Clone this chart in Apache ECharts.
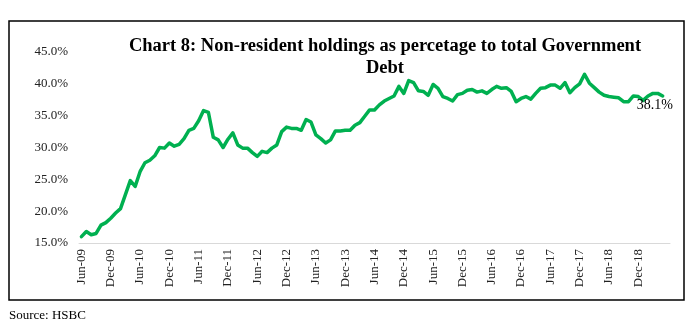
<!DOCTYPE html>
<html>
<head>
<meta charset="utf-8">
<script src="https://cdn.jsdelivr.net/npm/echarts@6/dist/echarts.min.js"></script>
<style>
html,body{margin:0;padding:0;background:#fff;}
#c{width:690px;height:333px;}
</style>
</head>
<body>
<div id="c"></div>
<script>
const months = [
 'Jun-09','Jul-09','Aug-09','Sep-09','Oct-09','Nov-09','Dec-09','Jan-10','Feb-10','Mar-10','Apr-10','May-10',
 'Jun-10','Jul-10','Aug-10','Sep-10','Oct-10','Nov-10','Dec-10','Jan-11','Feb-11','Mar-11','Apr-11','May-11',
 'Jun-11','Jul-11','Aug-11','Sep-11','Oct-11','Nov-11','Dec-11','Jan-12','Feb-12','Mar-12','Apr-12','May-12',
 'Jun-12','Jul-12','Aug-12','Sep-12','Oct-12','Nov-12','Dec-12','Jan-13','Feb-13','Mar-13','Apr-13','May-13',
 'Jun-13','Jul-13','Aug-13','Sep-13','Oct-13','Nov-13','Dec-13','Jan-14','Feb-14','Mar-14','Apr-14','May-14',
 'Jun-14','Jul-14','Aug-14','Sep-14','Oct-14','Nov-14','Dec-14','Jan-15','Feb-15','Mar-15','Apr-15','May-15',
 'Jun-15','Jul-15','Aug-15','Sep-15','Oct-15','Nov-15','Dec-15','Jan-16','Feb-16','Mar-16','Apr-16','May-16',
 'Jun-16','Jul-16','Aug-16','Sep-16','Oct-16','Nov-16','Dec-16','Jan-17','Feb-17','Mar-17','Apr-17','May-17',
 'Jun-17','Jul-17','Aug-17','Sep-17','Oct-17','Nov-17','Dec-17','Jan-18','Feb-18','Mar-18','Apr-18','May-18',
 'Jun-18','Jul-18','Aug-18','Sep-18','Oct-18','Nov-18','Dec-18','Jan-19','Feb-19','Mar-19','Apr-19','May-19',
 'Jun-19'
];
const holdings = [
 16.0,16.8,16.3,16.5,17.8,18.2,18.9,19.7,20.4,22.6,24.8,23.9,
 26.2,27.6,28.0,28.7,30.0,29.9,30.7,30.2,30.5,31.4,32.7,33.0,
 34.2,35.8,35.5,31.6,31.2,30.0,31.3,32.3,30.4,29.9,29.9,29.2,
 28.6,29.4,29.2,29.9,30.4,32.5,33.2,33.0,33.0,32.7,34.4,34.0,
 32.0,31.4,30.7,31.2,32.6,32.6,32.7,32.7,33.5,33.9,34.9,35.9,
 35.9,36.7,37.3,37.7,38.1,39.6,38.5,40.5,40.2,38.9,38.8,38.2,
 39.9,39.3,38.0,37.7,37.3,38.3,38.5,39.0,39.1,38.7,38.9,38.5,
 39.1,39.6,39.3,39.4,38.8,37.2,37.7,38.0,37.6,38.5,39.3,39.4,
 39.8,39.8,39.3,40.2,38.6,39.4,40.0,41.5,40.1,39.4,38.7,38.2,
 38.0,37.9,37.8,37.2,37.2,38.1,38.0,37.4,38.1,38.5,38.5,38.1
];
const yTicks = [15, 20, 25, 30, 35, 40, 45];
const titleLines = ['Chart 8: Non-resident holdings as percetage to total Government', 'Debt'];
const sourceText = 'Source: HSBC';

const serif = '"Liberation Serif", "Times New Roman", serif';
const showIdx = (i) => i % 6 === 0 && i < holdings.length;

const chart = echarts.init(document.getElementById('c'), null, { renderer: 'canvas' });
chart.setOption({
  animation: false,
  backgroundColor: '#fff',
  grid: { left: 79, right: 20, top: 52, bottom: 90, containLabel: false },
  xAxis: {
    type: 'category',
    data: months,
    boundaryGap: true,
    axisLine: { lineStyle: { color: '#d9d9d9', width: 1 } },
    axisTick: { interval: showIdx, alignWithLabel: true, length: 4, lineStyle: { color: '#bfbfbf' } },
    axisLabel: { interval: showIdx, rotate: 90, margin: 6, fontFamily: serif, fontSize: 13, color: '#222' },
    splitLine: { show: false }
  },
  yAxis: {
    type: 'value',
    min: yTicks[0], max: yTicks[yTicks.length - 1], interval: 5,
    axisLine: { show: false }, axisTick: { show: false }, splitLine: { show: false },
    axisLabel: { margin: 11, fontFamily: serif, fontSize: 13, color: '#222', formatter: v => v.toFixed(1) + '%' }
  },
  series: [{
    type: 'line',
    data: holdings,
    showSymbol: false,
    symbol: 'none',
    smooth: false,
    lineStyle: { color: '#00B050', width: 3.5, join: 'round', cap: 'round' },
    itemStyle: { color: '#00B050' },
    endLabel: {
      show: true, distance: 0, offset: [-26, 9],
      formatter: p => Number(p.value).toFixed(1) + '%',
      fontFamily: serif, fontSize: 14, color: '#000'
    },
    z: 3
  }],
  graphic: [
    { type: 'rect', shape: { x: 9, y: 21, width: 675, height: 279 }, style: { fill: 'none', stroke: '#000', lineWidth: 1.5 }, silent: true },
    { type: 'text', x: 385, y: 35, style: { text: titleLines.join('\n'), textAlign: 'center', fontFamily: serif, fontWeight: 'bold', fontSize: 18.5, lineHeight: 22, fill: '#000' } },
    { type: 'text', x: 9, y: 309, style: { text: sourceText, fontFamily: serif, fontSize: 13, fill: '#000' } }
  ]
});
</script>
</body>
</html>
